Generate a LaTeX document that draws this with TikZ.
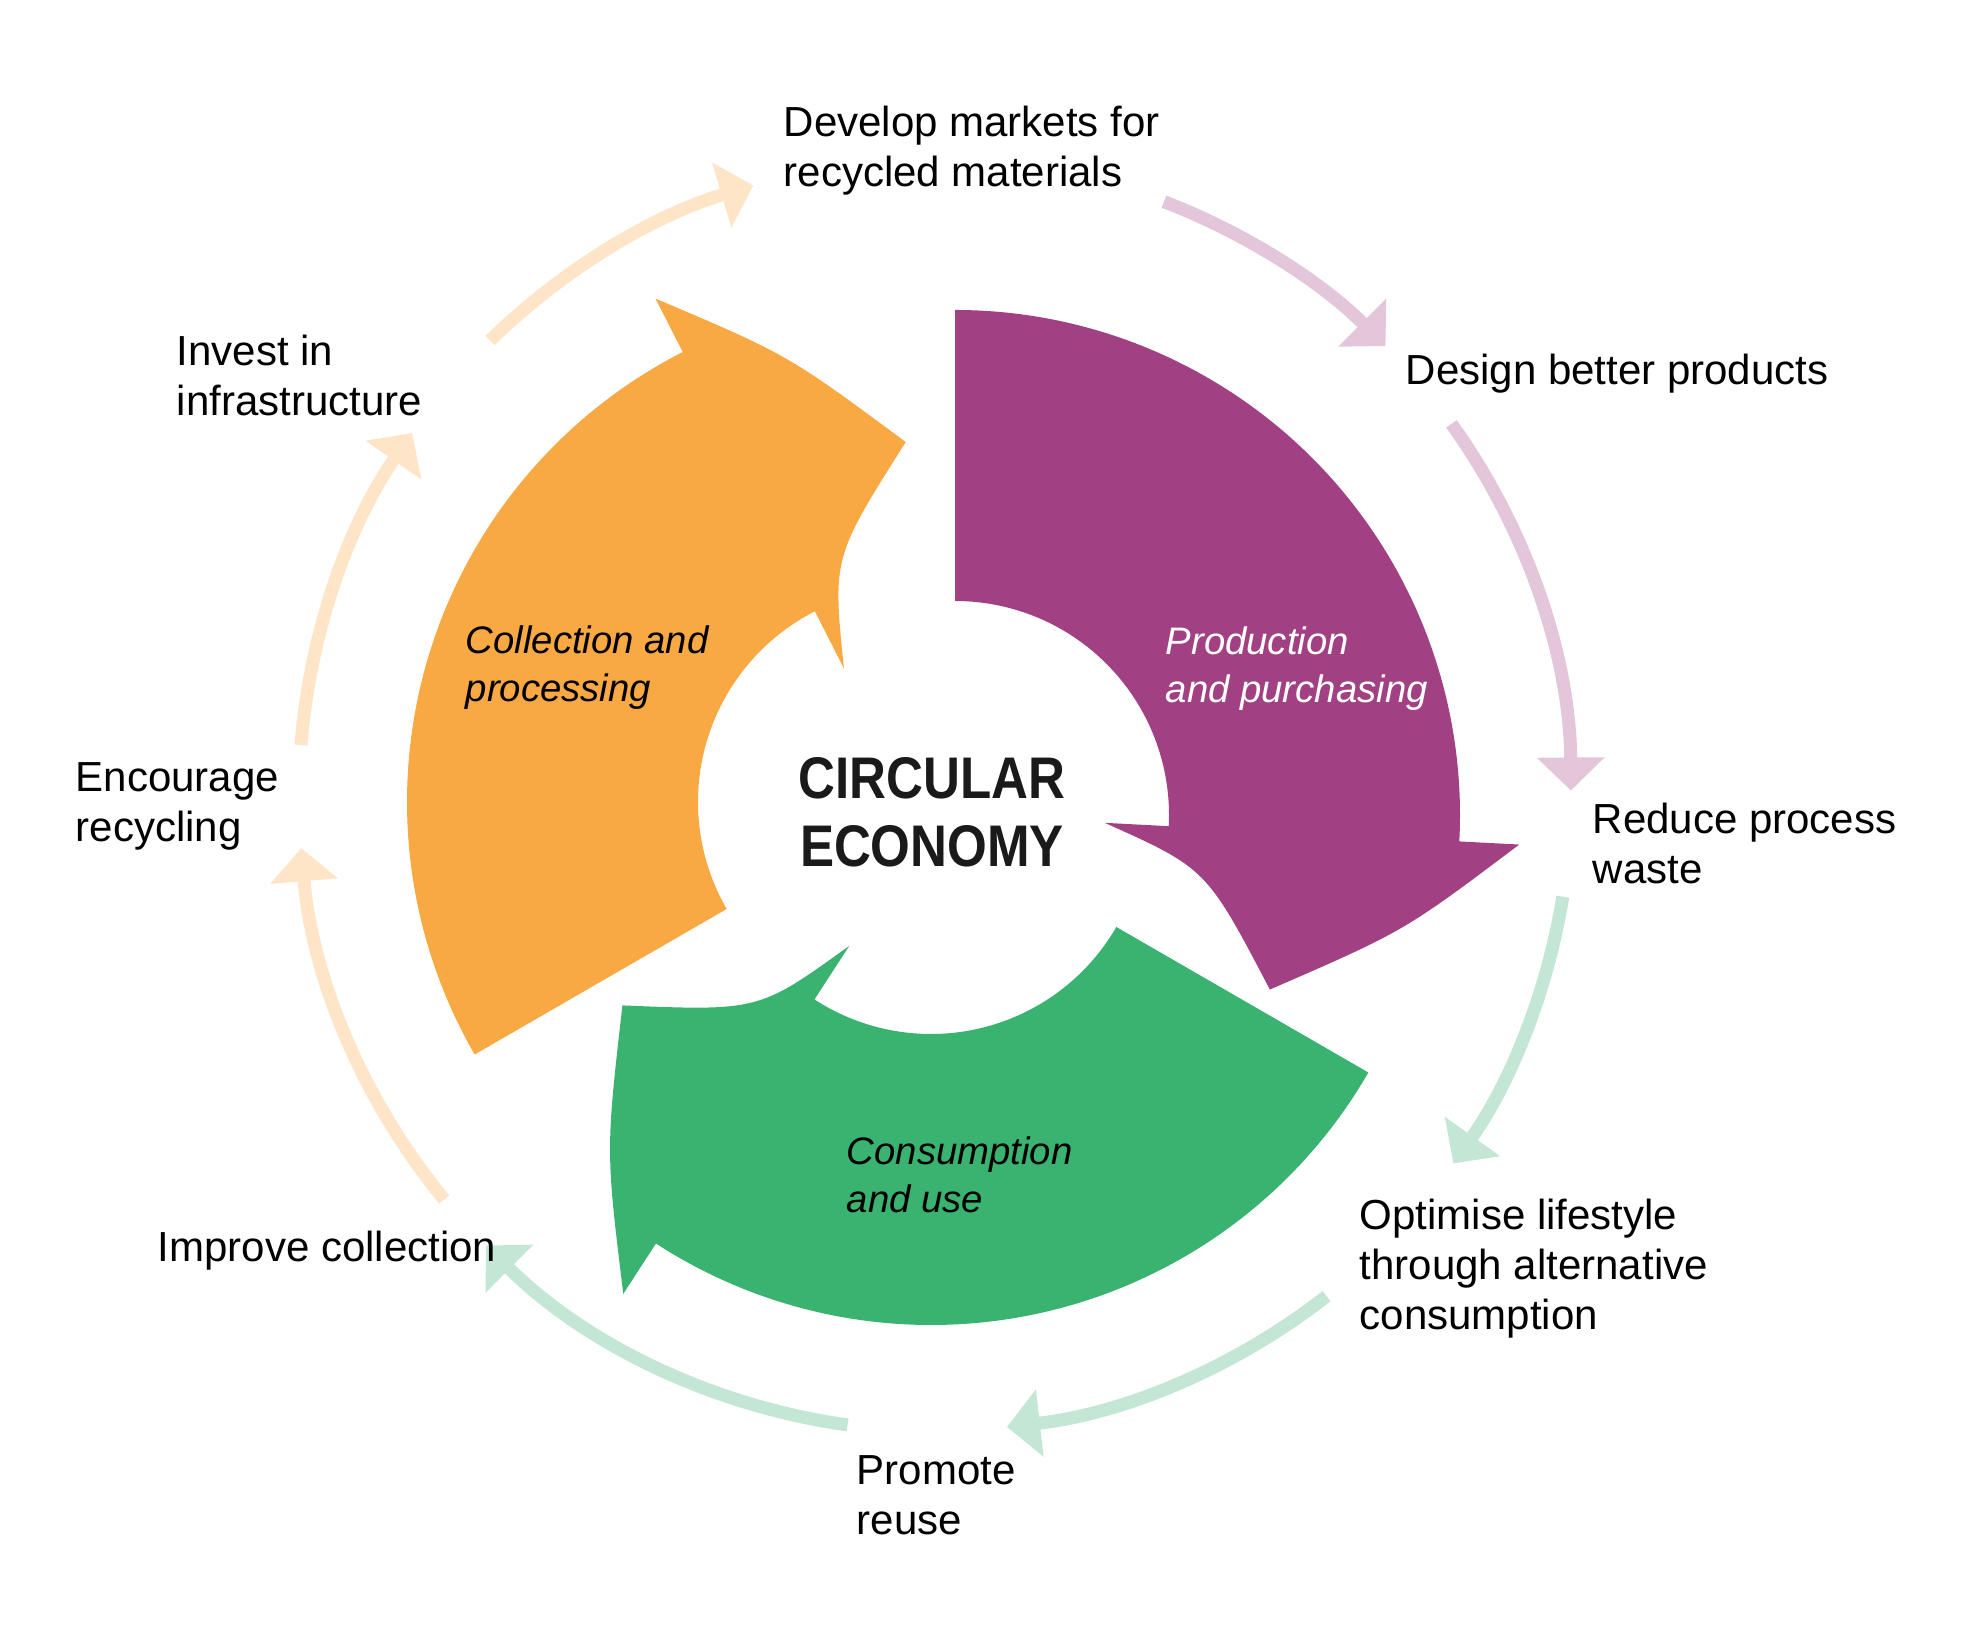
\documentclass[tikz,border=0pt]{standalone}
\usepackage{fontspec}
\setmainfont{Liberation Sans}
\newfontfamily\titlefont[FakeStretch=0.87]{Liberation Sans}
\usetikzlibrary{arrows.meta}

\definecolor{ceorange}{RGB}{248,169,67}
\definecolor{cepurple}{RGB}{161,64,130}
\definecolor{cegreen}{RGB}{58,178,112}
\definecolor{lightorange}{RGB}{254,229,199}
\definecolor{lightpurple}{RGB}{228,198,219}
\definecolor{lightgreen}{RGB}{196,231,213}
\definecolor{titlegray}{RGB}{26,26,26}

\begin{document}
\begin{tikzpicture}[
    x=0.01cm, y=0.01cm,
    step label/.style={anchor=base west, align=left, inner sep=0pt,
        font=\fontsize{11.95}{14.23}\selectfont},
    phase label/.style={anchor=base west, align=left, inner sep=0pt,
        font=\fontsize{10.9}{13.66}\selectfont\itshape},
    title label/.style={anchor=base, align=center, inner sep=0pt, text=titlegray,
        font=\fontsize{16.7}{19.35}\selectfont\titlefont\bfseries},
    ring/.style={line width=0.13cm, -{Triangle[length=0.33cm, width=0.66cm]}},
    pics/ringarrow/.style={code={
        \fill[pic actions] (90:505) arc[start angle=90, end angle=-3, radius=505]
            -- (-3:565) .. controls (-14.5:464) .. (-29:360)
            .. controls (-12:257) .. (-3:150) -- (-3:214)
            arc[start angle=-3, end angle=90, radius=214] -- cycle;
    }}]
    \useasboundingbox (0,0) rectangle (1963,1630);

    % three big phase arrows
    \pic[fill=cepurple] at (955,815) {ringarrow};
    \pic[fill=ceorange, rotate=120] at (912,828) {ringarrow};
    \pic[fill=cegreen, rotate=240] at (931,810) {ringarrow};

    \node[phase label] (collect) at (465,928) {Collection and\\processing};
    \node[phase label, text=white] (produce) at (1165,927) {Production\\and purchasing};
    \node[phase label] (consume) at (846,417) {Consumption\\and use};
    \node[title label] (title) at (932,763) {CIRCULAR\\ECONOMY};

    % outer ring of steps
    \coordinate (hub) at (935,835);
    \draw[ring, lightorange] ([shift={(134.4:636)}]hub) arc[start angle=134.4, end angle=106.6, radius=636];
    \draw[ring, lightpurple] ([shift={(68.9:636)}]hub) arc[start angle=68.9, end angle=44.9, radius=636];
    \draw[ring, lightpurple] ([shift={(35.7:636)}]hub) arc[start angle=35.7, end angle=0.4, radius=636];
    \draw[ring, lightgreen] ([shift={(-9.2:636)}]hub) arc[start angle=-9.2, end angle=-35.4, radius=636];
    \draw[ring, lightgreen] ([shift={(-52:636)}]hub) arc[start angle=-52, end angle=-83.5, radius=636];
    \draw[ring, lightgreen] ([shift={(-97.9:636)}]hub) arc[start angle=-97.9, end angle=-134.9, radius=636];
    \draw[ring, lightorange] ([shift={(-140.5:636)}]hub) arc[start angle=-140.5, end angle=-175.2, radius=636];
    \draw[ring, lightorange] ([shift={(175.5:636)}]hub) arc[start angle=175.5, end angle=145.3, radius=636];

    \node[step label] (markets) at (783,1443) {Develop markets for\\recycled materials};
    \node[step label] (design) at (1405,1245) {Design better products};
    \node[step label] (waste) at (1592,746) {Reduce process\\waste};
    \node[step label] (lifestyle) at (1359,300) {Optimise lifestyle\\through alternative\\consumption};
    \node[step label] (reuse) at (856,95) {Promote\\reuse};
    \node[step label] (collection) at (157,368) {Improve collection};
    \node[step label] (recycling) at (75,788) {Encourage\\recycling};
    \node[step label] (invest) at (176,1214) {Invest in\\infrastructure};
\end{tikzpicture}
\end{document}
